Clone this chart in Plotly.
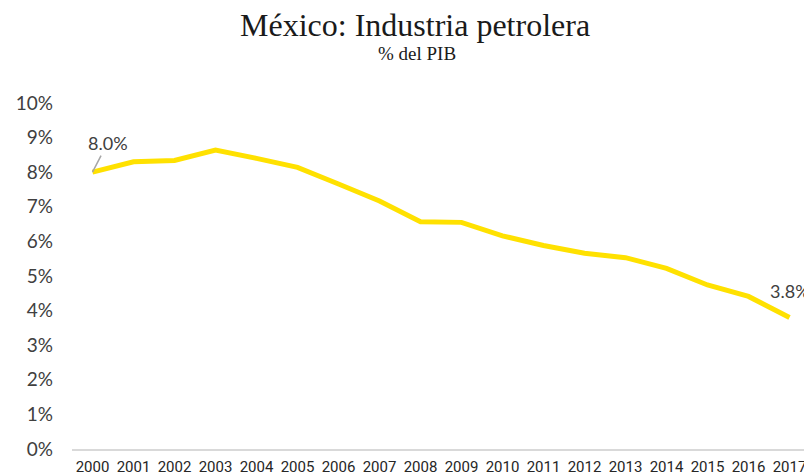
import plotly.graph_objects as go

years = [str(y) for y in range(2000, 2018)]
values = [8.0, 8.30, 8.34, 8.64, 8.40, 8.14, 7.66, 7.17, 6.57, 6.55,
          6.16, 5.88, 5.66, 5.53, 5.22, 4.74, 4.41, 3.8]
y_ticks = list(range(0, 11))
y_ticktext = [f"{t}%" for t in y_ticks]

title_text = "México: Industria petrolera"
subtitle_text = "% del PIB"

first_idx = 0
last_idx = len(years) - 1

fig = go.Figure()
fig.add_trace(go.Scatter(
    x=years, y=values, mode="lines",
    line=dict(color="#FFE100", width=5),
    hoverinfo="skip", showlegend=False,
))

# page body has an 8px margin, so the figure is sized/offset to compensate
fig.update_layout(
    width=804, height=468,
    margin=dict(l=64, r=2, t=95, b=27),
    paper_bgcolor="white", plot_bgcolor="white",
    showlegend=False,
    xaxis=dict(
        type="category", range=[-0.5, 17.5], automargin=False,
        showline=True, linecolor="#D9D9D9", linewidth=2,
        showgrid=False, zeroline=False, ticks="",
        tickfont=dict(family="Roboto, sans-serif", size=15, color="#262626"),
        ticklabelstandoff=3,
    ),
    yaxis=dict(
        range=[0, 10], tickvals=y_ticks, ticktext=y_ticktext, automargin=False,
        showgrid=False, zeroline=False, showline=False, ticks="",
        tickfont=dict(family="Lato, sans-serif", size=19, color="#404040"),
        ticklabelstandoff=18,
    ),
    annotations=[
        dict(text=title_text, xref="paper", yref="paper", x=0.465, y=1.0,
             yshift=78, xanchor="center", yanchor="middle", showarrow=False,
             font=dict(family="Liberation Serif, serif", size=32, color="#1a1a1a")),
        dict(text=subtitle_text, xref="paper", yref="paper", x=0.467, y=1.0,
             yshift=50, xanchor="center", yanchor="middle", showarrow=False,
             font=dict(family="Liberation Serif, serif", size=19, color="#1a1a1a")),
        dict(text=f"{values[first_idx]:.1f}%", x=first_idx, y=values[first_idx],
             xref="x", yref="y",
             showarrow=True, arrowhead=0, arrowwidth=1.5, arrowcolor="#A6A6A6",
             ax=15, ay=-29,
             font=dict(family="Lato, sans-serif", size=18, color="#404040")),
        dict(text=f"{values[last_idx]:.1f}%", x=last_idx, y=values[last_idx],
             xref="x", yref="y",
             showarrow=False, yshift=27, xshift=0,
             font=dict(family="Lato, sans-serif", size=18, color="#404040")),
    ],
)

fig.write_html("out.html")
